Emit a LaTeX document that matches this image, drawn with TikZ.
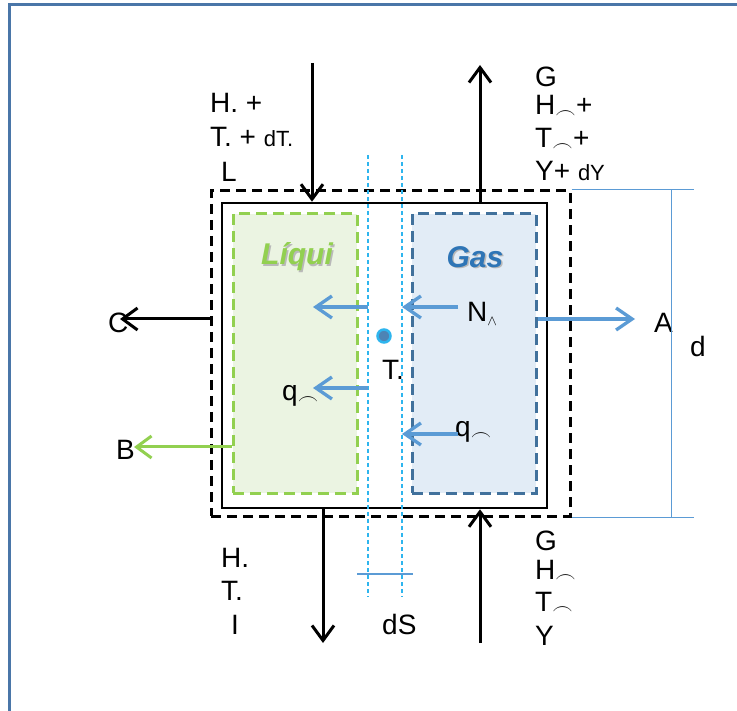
\documentclass[tikz,border=0pt]{standalone}
\usepackage{fontspec}
\setmainfont{Liberation Sans}
\usetikzlibrary{arrows.meta,positioning,calc}
\definecolor{frameblue}{HTML}{4A76A8}
\definecolor{liqgreen}{HTML}{92D050}
\definecolor{liqfill}{HTML}{EBF4E2}
\definecolor{gasblue}{HTML}{41719C}
\definecolor{gastext}{HTML}{2E75B6}
\definecolor{gasfill}{HTML}{E2ECF6}
\definecolor{fluxblue}{HTML}{5B9BD5}
\definecolor{ifcyan}{HTML}{2EB5EE}
\tikzset{
  lbl/.style={anchor=base west, inner sep=0pt, font=\fontsize{28}{30}\selectfont},
  phase/.style={rectangle, dash pattern=on 11pt off 6pt, line width=3pt,
                minimum width=124pt, minimum height=279pt, inner sep=0pt},
  BA/.style={-{Straight Barb[length=15pt,width=22pt]}, line width=3pt},
  FA/.style={-{Straight Barb[length=16pt,width=22pt]}, line width=3.3pt, color=fluxblue},
  IF/.style={ifcyan, line width=1.8pt, dash pattern=on 4pt off 3pt},
  DM/.style={fluxblue, line width=1.6pt}
}

\begin{document}
\begin{tikzpicture}[x=1pt, y=-1pt,
  title/.style={font=\fontsize{30}{32}\selectfont\bfseries\itshape, inner sep=0pt}
]
\useasboundingbox (0,0) rectangle (737,711);

% ---- frame ----
\draw[frameblue, line width=3pt] (9,711) -- (9,5) -- (737,5);

% ---- control volume ----
\node[draw, dash pattern=on 10pt off 6pt, line width=3pt, minimum width=359pt,
      minimum height=325pt, inner sep=0pt] (outer) at (390.5,353.5) {};
\node[draw, line width=2.5pt, minimum width=325pt, minimum height=305pt,
      inner sep=0pt] (inner) at (384.5,355.5) {};

% ---- phases ----
\node[phase, draw=liqgreen, fill=liqfill] (liq) at (295,353.5) {};
\node[phase, draw=gasblue, fill=gasfill] (gas) at (474,353.5) {};
\node[title, text=gray!55] at (298.5,258.5) {Líqui};
\node[title, text=liqgreen] (liqname) at (297,257) {Líqui};
\node[title, text=gray!55] at (476.5,258.5) {Gas};
\node[title, text=gastext] (gasname) at (475,257) {Gas};

% ---- interface ----
\draw[IF] (368,155) -- (368,597);
\draw[IF] (402,155) -- (402,597);
\node[circle, fill=fluxblue!85!black, draw=ifcyan, line width=2.5pt,
      minimum size=13pt, inner sep=0pt] (Ti) at (384,336) {};
\node[lbl] (Tilbl) at (382,380) {T.};

% ---- top labels ----
\node[lbl] (hLin) at (210,113) {H. +};
\node[lbl] (tLin) at (210,147) {T. + {\fontsize{22}{24}\selectfont dT.}};
\node[lbl] (lLin) at (221,182) {L};
\node[lbl] (gGout) at (535,87) {G};
\node[lbl] (hGout) at (535,115) {H$_\frown$+};
\node[lbl] (tGout) at (535,148) {T$_\frown$+};
\node[lbl] (yGout) at (535,181) {Y+ {\fontsize{22}{24}\selectfont dY}};

% ---- bottom labels ----
\node[lbl] (hLout) at (221,567) {H.};
\node[lbl] (tLout) at (221,600) {T.};
\node[lbl] (lLout) at (231,634) {I};
\node[lbl] (gGin) at (535,550) {G};
\node[lbl] (hGin) at (535,579) {H$_\frown$};
\node[lbl] (tGin) at (535,611) {T$_\frown$};
\node[lbl] (yGin) at (535,645) {Y};
\node[lbl] (dSlbl) at (382,634) {dS};

% ---- side labels ----
\node[lbl] (Qlbl) at (108,333) {C};
\node[lbl] (Rlbl) at (116,460) {B};
\node[lbl] (NAlbl) at (467,322) {N$_{\scriptscriptstyle\wedge}$};
\node[lbl] (qGLlbl) at (282,401) {q$_\frown$};
\node[lbl] (qGlbl) at (455,437) {q$_\frown$};
\node[lbl] (Albl) at (654,333) {A};
\node[lbl] (dlbl) at (690,357) {d};

% ---- free ends ----
\coordinate (Lin) at (312,63);
\coordinate (Gout) at (480,65);
\coordinate (Lout) at (323,643);
\coordinate (Gin) at (480,643);
\coordinate (Qend) at (120,319);
\coordinate (Rend) at (134,447);
\coordinate (Aend) at (635,319);

% ---- stream arrows ----
\draw[BA] (Lin) -- (Lin |- inner.north);
\draw[BA] (Gout |- inner.north) -- (Gout);
\draw[BA] (Lout |- inner.south) -- (Lout);
\draw[BA] (Gin) -- (Gin |- inner.south);
\draw[BA] (Qend -| outer.west) -- (Qend);
\draw[BA, liqgreen] (Rend -| liq.west) -- (Rend);

% ---- fluxes ----
\draw[FA] (368,307) -- (313,307);
\draw[FA] (368,388) -- (313,388);
\draw[FA] (458,307) -- (402,307);
\draw[FA] (458,434) -- (402,434);
\draw[FA] (Aend -| gas.east) -- (Aend);

% ---- dimensions ----
\draw[DM] (outer.north east) -- ++(122,0) coordinate (dtop);
\draw[DM] (outer.south east) -- ++(122,0) coordinate (dbot);
\draw[DM] ($(dtop)+(-22,0)$) -- ($(dbot)+(-22,0)$);
\draw[DM] (357,574) -- (413,574);

\end{tikzpicture}
\end{document}
